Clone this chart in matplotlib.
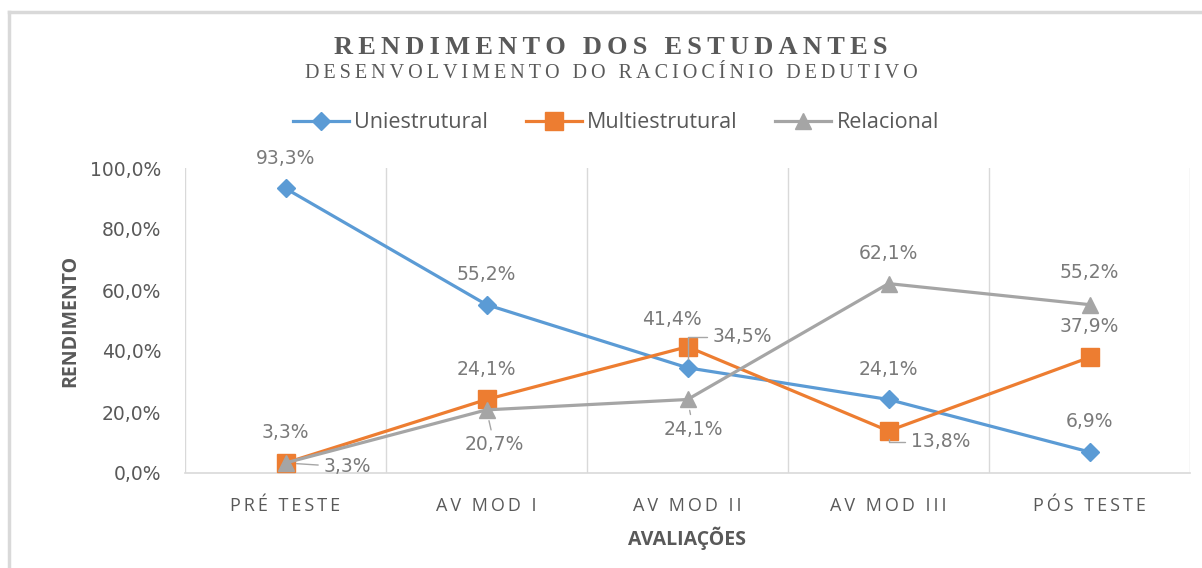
import matplotlib
matplotlib.use('Agg')
import matplotlib.pyplot as plt
from matplotlib.lines import Line2D
import numpy as np

categories = ['PRÉ TESTE', 'AV MOD I', 'AV MOD II', 'AV MOD III', 'PÓS TESTE']
series_names = ['Uniestrutural', 'Multiestrutural', 'Relacional']
uniestrutural = [0.933, 0.552, 0.345, 0.241, 0.069]
multiestrutural = [0.033, 0.241, 0.414, 0.138, 0.379]
relacional = [0.033, 0.207, 0.241, 0.621, 0.552]
yticks = [0.0, 0.2, 0.4, 0.6, 0.8, 1.0]

SANS = ['Open Sans', 'DejaVu Sans']
NUM = ['DejaVu Sans']
SERIF = ['Liberation Serif', 'DejaVu Serif']
GRAY_TXT = '#595959'
LBL_TXT = '#7a7a7a'
GRID = '#d9d9d9'


def spaced(s, sep='\u200a'):
    return sep.join(s)


def pct(v):
    return f'{v * 100:.1f}%'.replace('.', ',')


fig = plt.figure(figsize=(12.02, 5.68), dpi=100)
ax = fig.add_axes([185 / 1202, 95 / 568, 1005 / 1202, 305 / 568])

x = np.arange(len(categories))
styles = [
    (uniestrutural, '#5B9BD5', 'D', 9.5),
    (multiestrutural, '#ED7D31', 's', 12.5),
    (relacional, '#A5A5A5', '^', 12),
]
for (vals, col, mk, ms), name in zip(styles, series_names):
    ax.plot(x, vals, color=col, lw=2.3, marker=mk, markersize=ms,
            markeredgecolor=col, label=name, zorder=3)

# data labels: (series, index) -> offset in pixels, leader style or None
label_pos = {
    (0, 0): ((0, 30), None), (0, 1): ((0, 30), None),
    (0, 2): ((55, 31), 'angle'), (0, 3): ((0, 30), None), (0, 4): ((0, 30), None),
    (1, 0): ((0, 30), None), (1, 1): ((0, 30), None),
    (1, 2): ((-16, 27), None), (1, 3): ((52, -11), 'angle'), (1, 4): ((0, 31), None),
    (2, 0): ((62, -4), 'line'), (2, 1): ((8, -35), 'line'),
    (2, 2): ((6, -30), 'line'), (2, 3): ((0, 30), None), (2, 4): ((0, 32), None),
}
all_vals = [uniestrutural, multiestrutural, relacional]
for si, vals in enumerate(all_vals):
    for i, v in enumerate(vals):
        off, conn = label_pos[(si, i)]
        kw = {}
        if conn == 'angle':
            kw['arrowprops'] = dict(arrowstyle='-', color='#a6a6a6', lw=1,
                                    connectionstyle='angle,angleA=0,angleB=90,rad=0',
                                    shrinkA=2, shrinkB=6)
        elif conn == 'line':
            kw['arrowprops'] = dict(arrowstyle='-', color='#a6a6a6', lw=1,
                                    shrinkA=2, shrinkB=8)
        ax.annotate(pct(v), (i, v), xytext=off, textcoords='offset pixels',
                    ha='center', va='center', fontsize=13.5, color=LBL_TXT,
                    family=NUM, zorder=4, **kw)

ax.set_xlim(-0.5, len(categories) - 0.5)
ax.set_ylim(0, 1.0)
ax.set_xticks(x)
ax.set_xticklabels([spaced(c, '\u2009') for c in categories], family=SANS,
                   fontsize=13, color=GRAY_TXT)
ax.set_yticks(yticks)
ax.set_yticklabels([pct(t) for t in yticks], family=NUM, fontsize=13.5,
                   color=GRAY_TXT)
ax.set_xticks(np.arange(-0.5, len(categories), 1), minor=True)
ax.tick_params(axis='both', which='both', length=0)
ax.tick_params(axis='x', pad=17)
ax.tick_params(axis='y', pad=17)
ax.grid(which='minor', axis='x', color=GRID, lw=1)
ax.grid(which='major', visible=False)
for side in ['top', 'right', 'left']:
    ax.spines[side].set_visible(False)
ax.spines['bottom'].set_color(GRID)
ax.spines['bottom'].set_linewidth(1.2)

ax.set_xlabel('AVALIAÇÕES', family=SANS, fontsize=14, fontweight='bold',
              color=GRAY_TXT, labelpad=9)
ax.set_ylabel('RENDIMENTO', family=SANS, fontsize=14, fontweight='bold',
              color=GRAY_TXT, labelpad=7)

fig.text(611 / 1202, 1 - 47 / 568, spaced('RENDIMENTO DOS ESTUDANTES', '\u2009'),
         ha='center', va='center', family=SERIF, fontsize=19, fontweight='bold',
         color=GRAY_TXT)
fig.text(611 / 1202, 1 - 74 / 568,
         spaced('DESENVOLVIMENTO DO RACIOCÍNIO DEDUTIVO', '\u2009'),
         ha='center', va='center', family=SERIF, fontsize=14.5, color=GRAY_TXT)

fig.legend(loc='center', bbox_to_anchor=(616 / 1202, 1 - 123 / 568), ncol=3,
           frameon=False, handlelength=2.6, handletextpad=0.25, columnspacing=1.75,
           prop={'family': SANS, 'size': 15.5}, labelcolor=GRAY_TXT)

# outer chart frame (top and left edges visible)
fig.add_artist(Line2D([9 / 1202, 9 / 1202], [0, 1 - 12 / 568], color=GRID, lw=2.5,
                      transform=fig.transFigure))
fig.add_artist(Line2D([9 / 1202, 1], [1 - 12 / 568, 1 - 12 / 568], color=GRID,
                      lw=2.5, transform=fig.transFigure))

fig.savefig('out.png', dpi=100)
